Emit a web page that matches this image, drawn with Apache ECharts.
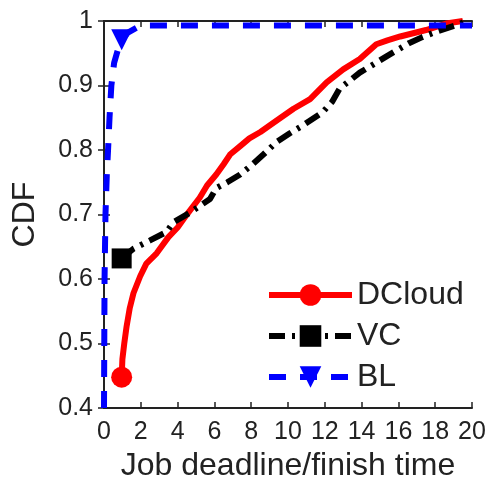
<!DOCTYPE html>
<html>
<head>
<meta charset="utf-8">
<script src="https://cdn.jsdelivr.net/npm/echarts@6/dist/echarts.min.js"></script>
<style>html,body{margin:0;padding:0;background:#fff}#c{width:492px;height:487px}</style>
</head>
<body>
<div id="c"></div>
<script>
const seriesNames = ['DCloud', 'VC', 'BL'];
const xTicks = [0, 2, 4, 6, 8, 10, 12, 14, 16, 18, 20];
const yTicks = [0.4, 0.5, 0.6, 0.7, 0.8, 0.9, 1];
const dcloud = [[0.96,0.448],[1.0,0.476],[1.1,0.5],[1.23,0.527],[1.4,0.555],[1.6,0.578],[1.96,0.604],[2.3,0.624],[2.86,0.64],[3.5,0.665],[4.0,0.68],[4.5,0.7],[5.2,0.726],[5.6,0.745],[6.1,0.762],[6.5,0.778],[6.85,0.793],[7.4,0.806],[7.9,0.818],[8.5,0.828],[9.0,0.838],[9.6,0.85],[10.3,0.864],[11.2,0.879],[12.1,0.905],[13.0,0.925],[13.9,0.941],[14.8,0.964],[15.4,0.97],[16.1,0.976],[17.5,0.986],[18.6,0.996],[19.5,1]];
const vc = [[0.96,0.632],[1.6,0.647],[2.5,0.66],[3.4,0.673],[3.77,0.688],[4.67,0.703],[5.76,0.724],[6.1,0.741],[6.7,0.75],[7.4,0.762],[8.0,0.776],[8.66,0.793],[9.4,0.813],[10.1,0.826],[10.8,0.838],[11.9,0.859],[12.4,0.875],[12.8,0.895],[13.9,0.92],[14.6,0.932],[15.4,0.946],[16.6,0.966],[17.3,0.975],[18.1,0.984],[19.2,0.994],[19.7,1]];
const bl = [[0,0.4],[0.03,0.6],[0.08,0.7],[0.15,0.76],[0.22,0.8],[0.3,0.85],[0.4,0.9],[0.55,0.935],[0.75,0.955],[0.96,0.971],[1.3,0.982],[1.8,0.99],[2.2,0.993],[20,0.993]];
const markerIndex = [0, 0, 9];

const FONT = '"Liberation Sans", Arial, Helvetica, sans-serif';
const TXT = '#222';
function withMarker(arr, idx) {
  return arr.map((p, i) => i === idx ? {value: p} : {value: p, symbol: 'none'});
}
const axisLine = {show: true, lineStyle: {color: '#222', width: 2}};
const tick = {show: true, inside: true, length: 6, lineStyle: {color: '#222', width: 1.5}};
const chart = echarts.init(document.getElementById('c'));
chart.setOption({
  animation: false,
  backgroundColor: '#fff',
  grid: {left: 104, right: 20, top: 21, bottom: 74, containLabel: false},
  xAxis: [{
    type: 'value', min: xTicks[0], max: xTicks[xTicks.length - 1], interval: 2,
    position: 'bottom',
    axisLine: axisLine, axisTick: tick,
    axisLabel: {margin: 12, fontSize: 25, color: TXT, fontFamily: FONT},
    splitLine: {show: false},
    name: 'Job deadline/finish time', nameLocation: 'middle', nameGap: 39,
    nameTextStyle: {fontSize: 32, color: TXT, fontFamily: FONT}
  }, {
    type: 'value', min: xTicks[0], max: xTicks[xTicks.length - 1], interval: 2,
    position: 'top',
    axisLine: axisLine, axisTick: tick,
    axisLabel: {show: false}, splitLine: {show: false}
  }],
  yAxis: [{
    type: 'value', min: yTicks[0], max: yTicks[yTicks.length - 1], interval: 0.1,
    position: 'left',
    axisLine: axisLine, axisTick: tick,
    axisLabel: {margin: 11, fontSize: 25, color: TXT, fontFamily: FONT,
      formatter: v => (Math.abs(v - 1) < 1e-9 ? '1' : v.toFixed(1))},
    splitLine: {show: false},
    name: 'CDF', nameLocation: 'middle', nameGap: 63, nameRotate: 90,
    nameTextStyle: {fontSize: 32, color: TXT, fontFamily: FONT}
  }, {
    type: 'value', min: yTicks[0], max: yTicks[yTicks.length - 1], interval: 0.1,
    position: 'right',
    axisLine: axisLine, axisTick: tick,
    axisLabel: {show: false}, splitLine: {show: false}
  }],
  legend: {
    orient: 'vertical', left: 261, top: 274,
    itemWidth: 83, itemHeight: 27, itemGap: 9,
    textStyle: {fontSize: 32, color: TXT, fontFamily: FONT},
    lineStyle: {width: 6},
    data: seriesNames
  },
  series: [{
    name: seriesNames[0], type: 'line', xAxisIndex: 0, yAxisIndex: 0,
    data: withMarker(dcloud, markerIndex[0]),
    symbol: 'circle', symbolSize: 21, showSymbol: true,
    itemStyle: {color: '#ff0000'},
    lineStyle: {color: '#ff0000', width: 6, join: 'round'},
    z: 3
  }, {
    name: seriesNames[1], type: 'line', xAxisIndex: 0, yAxisIndex: 0,
    data: withMarker(vc, markerIndex[1]),
    symbol: 'rect', symbolSize: 20, showSymbol: true,
    itemStyle: {color: '#000000'},
    lineStyle: {color: '#000000', width: 6, type: [16, 7, 3, 7]},
    z: 4
  }, {
    name: seriesNames[2], type: 'line', xAxisIndex: 0, yAxisIndex: 0,
    data: withMarker(bl, markerIndex[2]),
    symbol: 'triangle', symbolRotate: 180, symbolSize: 21, showSymbol: true,
    itemStyle: {color: '#0000ff'},
    lineStyle: {color: '#0000ff', width: 6, type: [17, 14]},
    z: 5
  }]
});
</script>
</body>
</html>
